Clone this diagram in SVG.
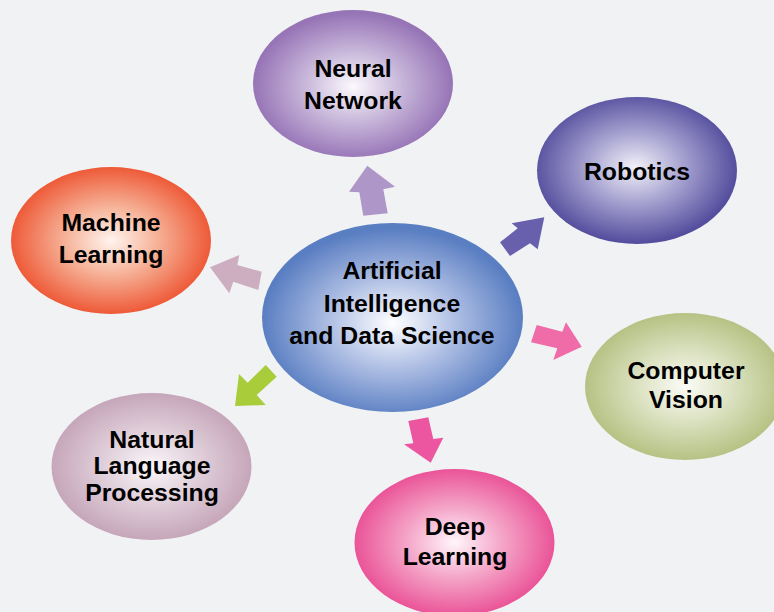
<svg xmlns="http://www.w3.org/2000/svg" width="774" height="612" viewBox="0 0 774 612">
<defs>
<radialGradient id="gC" cx="50%" cy="53%" r="50%"><stop offset="0" stop-color="#ffffff"/><stop offset="0.45" stop-color="#b4c3e6"/><stop offset="1" stop-color="#5a7ec2"/></radialGradient>
<radialGradient id="gN" cx="50%" cy="52%" r="50%"><stop offset="0" stop-color="#fbf9fd"/><stop offset="0.45" stop-color="#cbbbdc"/><stop offset="1" stop-color="#9674b6"/></radialGradient>
<radialGradient id="gR" cx="49%" cy="48%" r="51%"><stop offset="0" stop-color="#f2f1f9"/><stop offset="0.45" stop-color="#aaa6d2"/><stop offset="1" stop-color="#554e9e"/></radialGradient>
<radialGradient id="gM" cx="50%" cy="50%" r="50%"><stop offset="0" stop-color="#fff4ef"/><stop offset="0.45" stop-color="#f6b49a"/><stop offset="1" stop-color="#ee5a38"/></radialGradient>
<radialGradient id="gV" cx="50%" cy="50%" r="50%"><stop offset="0" stop-color="#fbfcf6"/><stop offset="0.45" stop-color="#dde3c4"/><stop offset="1" stop-color="#b6c284"/></radialGradient>
<radialGradient id="gL" cx="50%" cy="50%" r="50%"><stop offset="0" stop-color="#faf6f9"/><stop offset="0.45" stop-color="#e2d2dc"/><stop offset="1" stop-color="#c6a6ba"/></radialGradient>
<radialGradient id="gD" cx="50%" cy="50%" r="50%"><stop offset="0" stop-color="#fff6fa"/><stop offset="0.45" stop-color="#f5aacb"/><stop offset="1" stop-color="#ea5498"/></radialGradient>
</defs>
<style>
text{font-family:"Liberation Sans",Arial,sans-serif;font-weight:bold;font-size:24.8px;fill:#000;text-anchor:middle}
</style>
<rect width="774" height="612" fill="#f1f2f4"/>
<g id="connectors">
<polygon fill="#ae96c8" points="367.3,165.7 395,186.7 383.3,189.3 387.7,213.3 363.3,215.7 359.3,192.3 349,191.7"/>
<polygon fill="#6860ac" points="544.3,217.3 537.7,249.3 530,243.3 510,256 500,242.3 517.7,228.3 511.7,223.3"/>
<polygon fill="#ccaec0" points="210,267.3 239.3,255 237.3,265 261.7,271.7 258.3,290 233.3,281.7 229.3,293.3"/>
<polygon fill="#f06ca8" points="581.7,346.7 553.3,360 557.3,348.3 531,342.3 536.7,325 562.3,331.7 566,322.3"/>
<polygon fill="#a8cc3a" points="235,406 239,374 247.7,382.7 265.7,365 276.7,376.7 256.7,395 265.7,405"/>
<polygon fill="#ec56a0" points="430.7,462.7 404,444.3 413.3,443.3 408.3,421 428.3,417.3 433.3,439 443.3,437.7"/>
</g>
<g id="node-neural">
<ellipse cx="353" cy="83.5" rx="100" ry="73.5" fill="url(#gN)"/>
<text x="353" y="77">Neural</text>
<text x="353" y="109">Network</text>
</g>
<g id="node-robotics">
<ellipse cx="637" cy="170.5" rx="100" ry="73.5" fill="url(#gR)"/>
<text x="637" y="180">Robotics</text>
</g>
<g id="node-machine">
<ellipse cx="111" cy="240.5" rx="100" ry="73.5" fill="url(#gM)"/>
<text x="111" y="231">Machine</text>
<text x="111" y="263">Learning</text>
</g>
<g id="node-center">
<ellipse cx="392.5" cy="317.5" rx="130.5" ry="94.5" fill="url(#gC)"/>
<text x="392" y="279">Artificial</text>
<text x="392" y="312">Intelligence</text>
<text x="392" y="344">and Data Science</text>
</g>
<g id="node-vision">
<ellipse cx="685" cy="386.5" rx="100" ry="73.5" fill="url(#gV)"/>
<text x="686" y="379">Computer</text>
<text x="686" y="408">Vision</text>
</g>
<g id="node-nlp">
<ellipse cx="151.5" cy="466.5" rx="100" ry="73.5" fill="url(#gL)"/>
<text x="152" y="448">Natural</text>
<text x="152" y="474">Language</text>
<text x="152" y="501">Processing</text>
</g>
<g id="node-deep">
<ellipse cx="454.5" cy="542.5" rx="100" ry="73.5" fill="url(#gD)"/>
<text x="455" y="535">Deep</text>
<text x="455" y="565">Learning</text>
</g>
</svg>
